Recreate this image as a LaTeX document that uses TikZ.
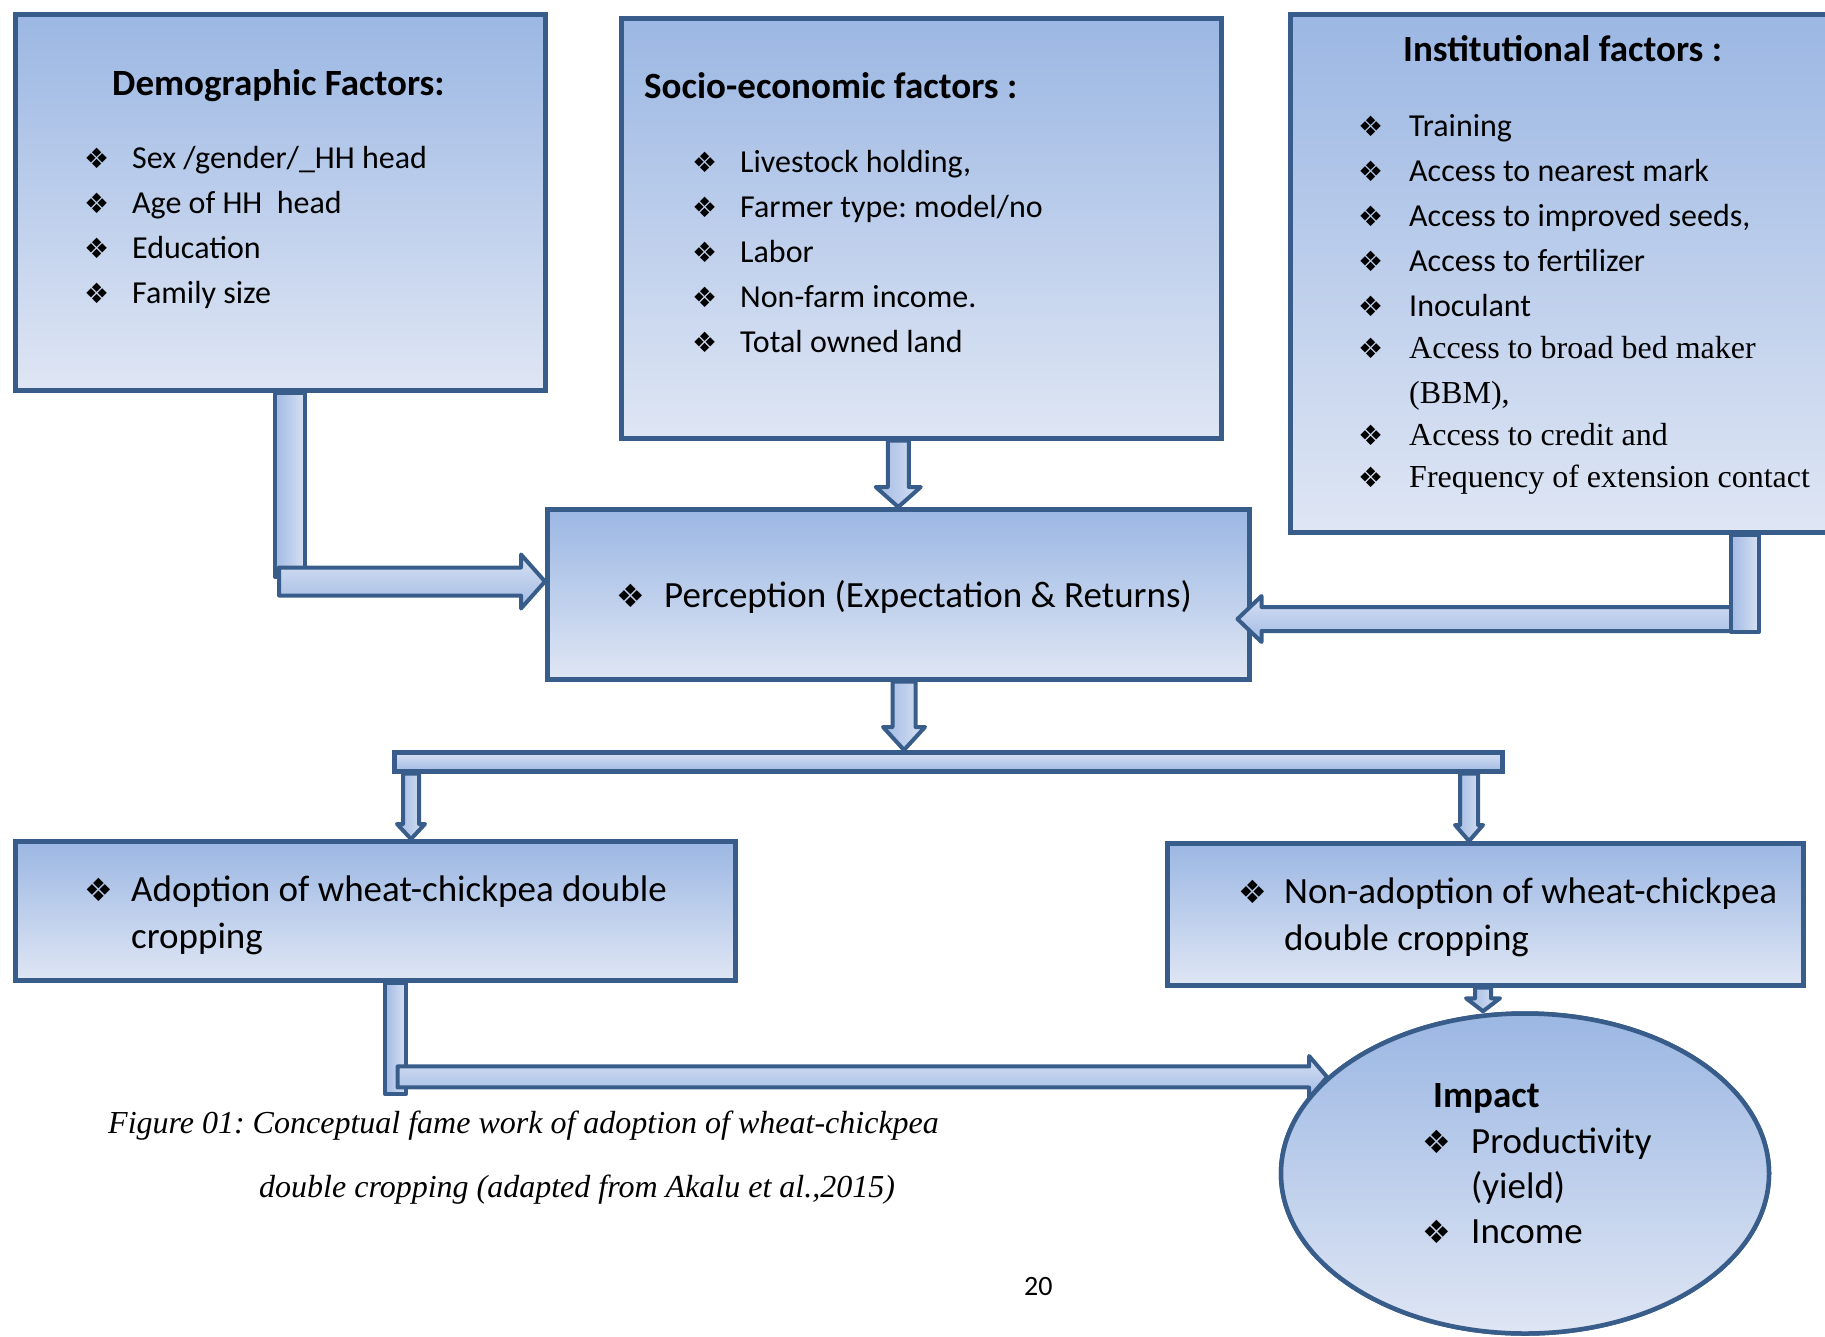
\documentclass[tikz,border=0pt]{standalone}
\usepackage{fontspec}
\setmainfont{Carlito}
\newfontfamily\timesfont{Liberation Serif}
\newfontfamily\bulfont{DejaVu Sans}
\usetikzlibrary{positioning,calc,shapes.geometric}
\frenchspacing

\definecolor{edgeblue}{RGB}{56,93,138}
\definecolor{boxtop}{RGB}{155,183,227}
\definecolor{boxbot}{RGB}{223,230,244}
\definecolor{arrdark}{RGB}{162,186,228}
\definecolor{arrlight}{RGB}{215,225,243}

\tikzset{
  factorbox/.style={draw=edgeblue, line width=4.5pt, top color=boxtop, bottom color=boxbot, anchor=north west, inner sep=0pt},
  blkline/.style={draw=edgeblue, line width=4pt, line join=round},
  vshade/.style={left color=arrdark, right color=arrlight},
  hshade/.style={top color=arrlight, bottom color=arrdark},
  item/.style={anchor=base west, inner sep=0pt, font=\fontsize{32pt}{38pt}\selectfont},
  tmsitem/.style={item, font=\fontsize{32pt}{38pt}\timesfont},
  bigitem/.style={item, font=\fontsize{37pt}{46pt}\selectfont},
  heading/.style={anchor=base west, inner sep=0pt, font=\fontsize{37pt}{44pt}\selectfont\bfseries},
  captext/.style={anchor=base west, inner sep=0pt, font=\fontsize{32pt}{38pt}\timesfont\itshape},
}

% bullet: size, gap to text
\newcommand{\bul}[2]{\llap{{\bulfont\fontsize{#1pt}{#1pt}\selectfont ❖}\hspace{#2pt}}}

% block arrows: start, tip, half shaft, half head, head length
\newcommand{\blkdown}[5]{\path[blkline,vshade] let \p1=(#1), \p2=(#2) in
  (\x2-#3pt,\y1) -- (\x2+#3pt,\y1) -- (\x2+#3pt,\y2+#5pt) -- (\x2+#4pt,\y2+#5pt)
  -- (\x2,\y2) -- (\x2-#4pt,\y2+#5pt) -- (\x2-#3pt,\y2+#5pt) -- cycle;}
\newcommand{\blkright}[5]{\path[blkline,hshade] let \p1=(#1), \p2=(#2) in
  (\x1,\y2+#3pt) -- (\x2-#5pt,\y2+#3pt) -- (\x2-#5pt,\y2+#4pt) -- (\x2,\y2)
  -- (\x2-#5pt,\y2-#4pt) -- (\x2-#5pt,\y2-#3pt) -- (\x1,\y2-#3pt) -- cycle;}
\newcommand{\blkleft}[5]{\path[blkline,hshade] let \p1=(#1), \p2=(#2) in
  (\x1,\y2+#3pt) -- (\x2+#5pt,\y2+#3pt) -- (\x2+#5pt,\y2+#4pt) -- (\x2,\y2)
  -- (\x2+#5pt,\y2-#4pt) -- (\x2+#5pt,\y2-#3pt) -- (\x1,\y2-#3pt) -- cycle;}
% plain bar: top point, bottom point, half width
\newcommand{\blkbar}[3]{\path[blkline,vshade] let \p1=(#1), \p2=(#2) in
  (\x1-#3pt,\y1) rectangle (\x1+#3pt,\y2);}

\begin{document}
\begin{tikzpicture}[x=1pt,y=-1pt]
\useasboundingbox (0,0) rectangle (1825,1336);
\clip (0,0) rectangle (1825,1336);

% factor boxes
\node[factorbox, minimum width=530pt, minimum height=376pt] (demo) at (13,12) {};
\node[factorbox, minimum width=600pt, minimum height=420pt] (socio) at (619,16) {};
\node[factorbox, minimum width=600pt, minimum height=518pt] (inst) at (1288,12) {};
\node[factorbox, minimum width=702pt, minimum height=170pt] (perc) at (545,507) {};
\node[factorbox, minimum width=720pt, minimum height=139pt] (adopt) at (13,839) {};
\node[factorbox, minimum width=636pt, minimum height=142pt] (nonad) at (1165,841) {};

% demographic
\node[heading] (demotitle) at (112,95) {Demographic Factors:};
\foreach \txt [count=\i] in {{Sex /gender/\_HH head},{Age of HH\ \ head},{Education},{Family size}}
  \node[item] (demo\i) at (132,{168+45*(\i-1)}) {\bul{28}{23}\txt};

% socio-economic
\node[heading] (sociotitle) at (644,98) {Socio-economic factors :};
\foreach \txt [count=\i] in {{Livestock holding,},{Farmer type: model/no},{Labor},{Non-farm income.},{Total owned land}}
  \node[item] (socio\i) at (740,{172+45*(\i-1)}) {\bul{28}{23}\txt};

% institutional
\node[heading] (insttitle) at (1403,61) {Institutional factors :};
\foreach \txt [count=\i] in {{Training},{Access to nearest mark},{Access to improved seeds,},{Access to fertilizer},{Inoculant}}
  \node[item] (inst\i) at (1409,{136+45*(\i-1)}) {\bul{28}{26}\txt};
\node[tmsitem] (inst6) at (1409,358) {\bul{28}{26}Access to broad bed maker};
\node[tmsitem] (inst6b) at (1409,403) {(BBM),};
\node[tmsitem] (inst7) at (1409,445) {\bul{28}{26}Access to credit and};
\node[tmsitem] (inst8) at (1409,487) {\bul{28}{26}Frequency of extension contact};

% perception
\node[bigitem] (perctext) at (664,607) {\bul{32}{19}Perception (Expectation \& Returns)};

% splitting bar
\node[factorbox, hshade, minimum width=1108pt, minimum height=19pt] (bar) at (392,750) {};

% outcomes
\node[bigitem] (adopt1) at (131,901) {\bul{32}{18}Adoption of wheat-chickpea double};
\node[bigitem] (adopt2) at (131,948) {cropping};
\node[bigitem] (nonad1) at (1284,903) {\bul{32}{17}Non-adoption of wheat-chickpea};
\node[bigitem] (nonad2) at (1284,950) {double cropping};

% arrows into perception
\coordinate (demobend) at (290,581.5);
\blkbar{demo.south -| demobend}{290,577}{15}
\blkright{[xshift=-11pt]demobend}{perc.west |- demobend}{14}{27}{24}
\blkdown{socio.south -| perc.north}{perc.north}{10.5}{22.5}{20}
\coordinate (instbend) at (1745,619);
\blkleft{instbend}{$(perc.east |- instbend)+(-14,0)$}{12}{23}{24}
\blkbar{inst.south -| instbend}{1745,632}{14}

% arrows out of perception
\coordinate (percdrop) at (904,680);
\blkdown{perc.south -| percdrop}{bar.north -| percdrop}{11.5}{21}{23}
\coordinate (leftdrop) at (411,773);
\blkdown{bar.south -| leftdrop}{adopt.north -| leftdrop}{8}{14}{15}
\coordinate (rightdrop) at (1469,773);
\blkdown{bar.south -| rightdrop}{nonad.north -| rightdrop}{9}{14}{16}

% impact
\coordinate (impactdrop) at (1483,990);
\coordinate (adoptbend) at (395.5,1078);
\node[draw=edgeblue, line width=4.5pt, top color=boxtop, bottom color=boxbot, ellipse, inner sep=0pt,
  minimum width=488pt, minimum height=320pt] (impact) at (1525,1173.5) {};
\blkbar{adopt.south -| adoptbend}{395.5,1094}{10.5}
\blkright{[xshift=2pt]adoptbend}{impact.154}{10.5}{21}{18}
\blkdown{nonad.south -| impactdrop}{impact.north -| impactdrop}{8}{17}{13}
\node[draw=edgeblue, line width=4.5pt, top color=boxtop, bottom color=boxbot, ellipse, inner sep=0pt,
  minimum width=488pt, minimum height=320pt] (impactfg) at (impact) {};
\node[heading] (impacttitle) at (1433,1107) {Impact};
\node[bigitem] (impact1) at (1471,1153) {\bul{32}{20}Productivity};
\node[bigitem] (impact1b) at (1471,1198) {(yield)};
\node[bigitem] (impact2) at (1471,1243) {\bul{32}{20}Income};

% caption and page number
\node[captext] (cap1) at (108,1133) {Figure 01: Conceptual fame work of adoption of wheat-chickpea};
\node[captext] (cap2) at (259,1197) {double cropping (adapted from Akalu et al.,2015)};
\node[anchor=base west, inner sep=0pt, font=\fontsize{28pt}{34pt}\selectfont] (pagenum) at (1024,1295) {20};
\end{tikzpicture}
\end{document}
